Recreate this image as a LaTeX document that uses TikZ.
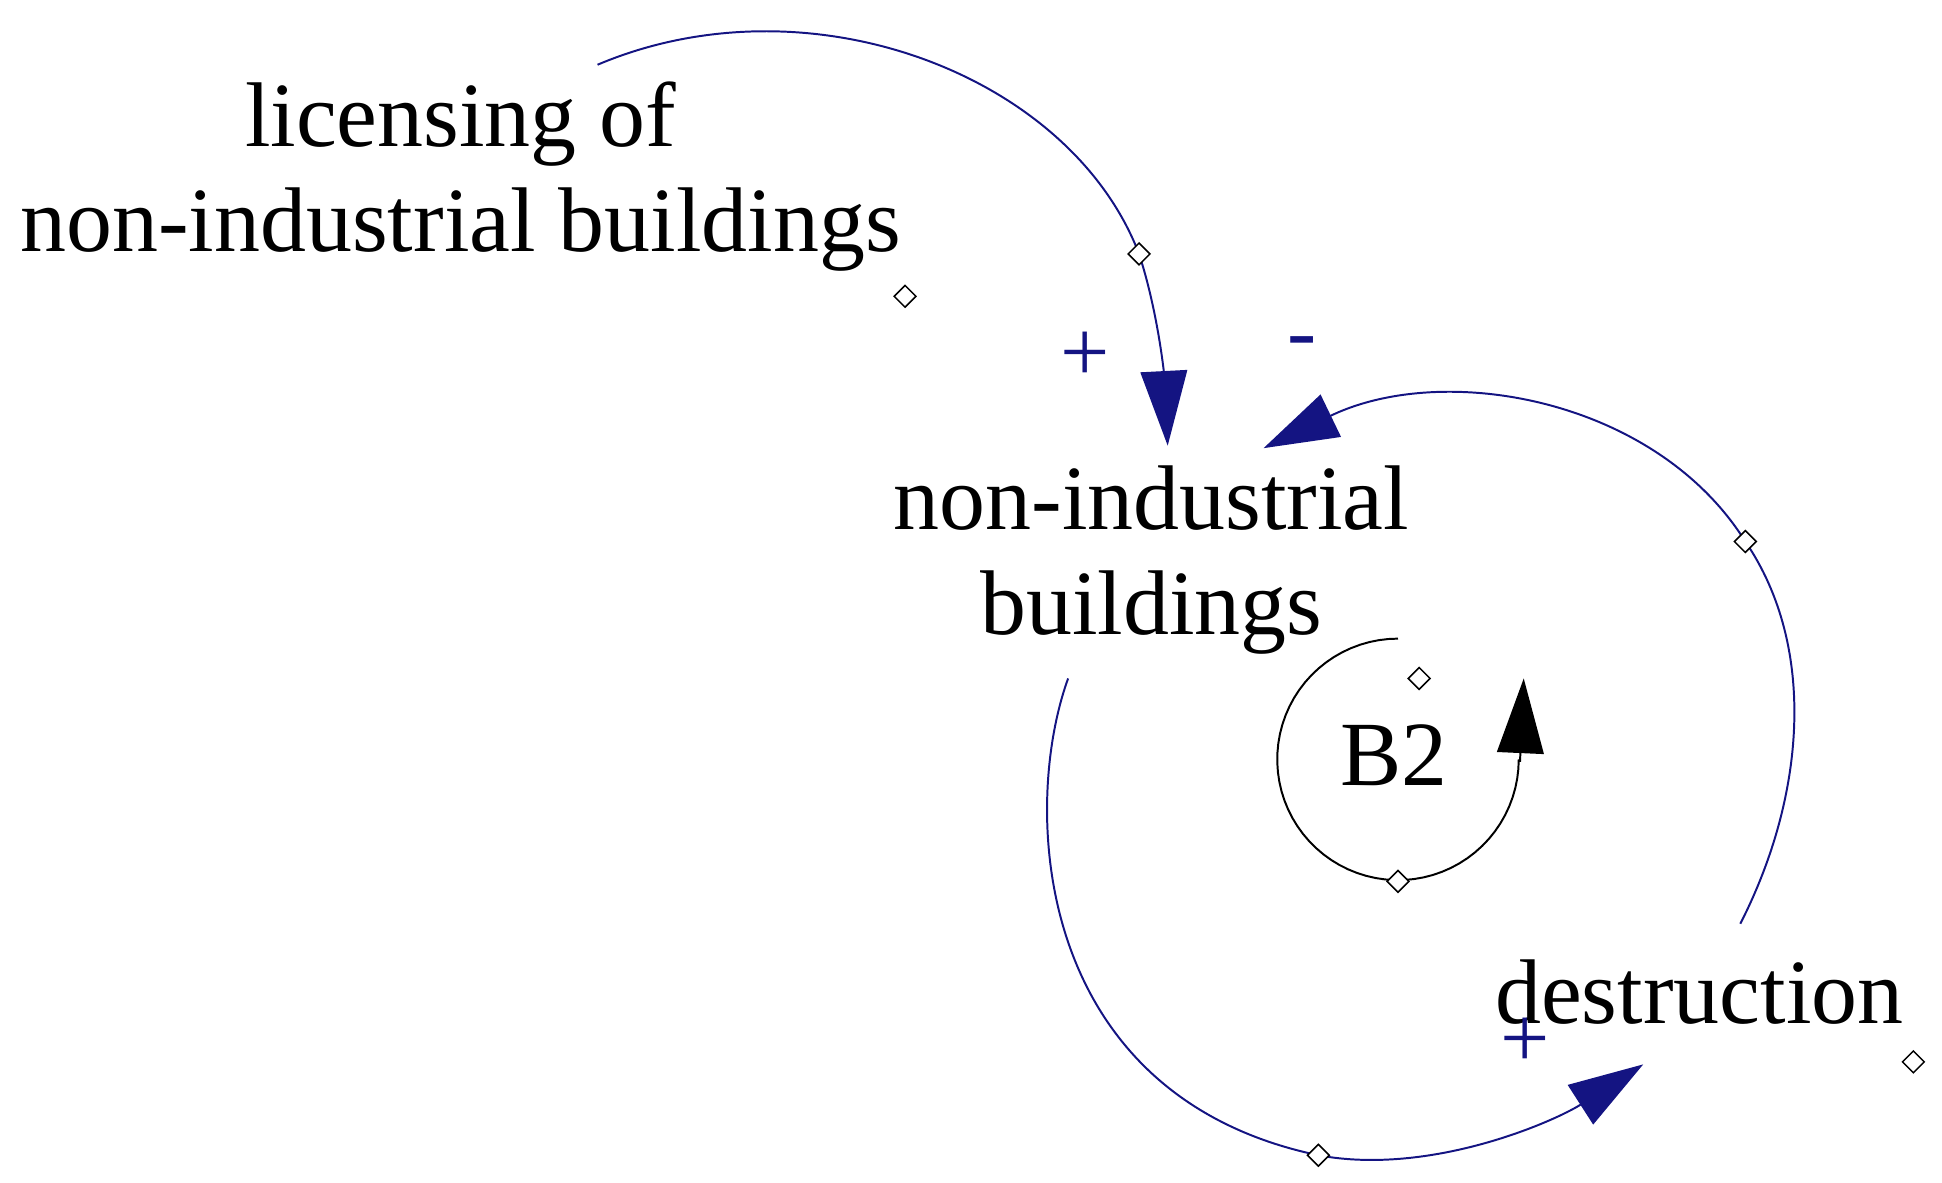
\documentclass[tikz,border=0pt]{standalone}
\usepackage{fontspec}
\setmainfont{Liberation Serif}
\usetikzlibrary{arrows.meta,shapes.geometric}
\begin{document}
\begin{tikzpicture}[x=0.02cm,y=-0.02cm,
  lbl/.style={font=\fontsize{42}{48}\selectfont,align=center,inner sep=0pt},
  sgn/.style={font=\fontsize{40}{40}\selectfont,text=navy,inner sep=0pt},
  hnd/.style={diamond,draw,fill=white,minimum size=0.36cm,inner sep=0pt,line width=0.7pt},
  lnk/.style={draw=navy,line width=0.9pt,-{Triangle[length=1.2cm,width=0.75cm]}}]
\definecolor{navy}{RGB}{20,20,130}
\useasboundingbox (0,0) rectangle (1560,950);
\node[lbl] (lic) at (370,142) {licensing of\\non-industrial buildings};
\node[lbl] (nib) at (925,450) {non-industrial\\buildings};
\node[lbl] (des) at (1365,797) {destruction};
\node[lbl] (b2) at (1120,607) {B2};
\node[sgn] (p1) at (872,287) {+};
\node[sgn] (m1) at (1046,280) {-};
\node[sgn] (p2) at (1225,838) {+};
\draw[lnk] (480,52) .. controls (650,-20) and (860,60) .. (915,204) .. controls (930,250) and (935,300) .. (938,358);
\draw[lnk] (1398,742) .. controls (1450,640) and (1460,520) .. (1402,435) .. controls (1330,320) and (1160,290) .. (1015,360);
\draw[lnk] (858,545) .. controls (820,650) and (830,880) .. (1059,928) .. controls (1150,945) and (1250,900) .. (1320,855);
\draw[black,line width=0.9pt] plot[domain=90:360,samples=60] ({1123+97*cos(\x)},{610-97*sin(\x)});
\coordinate (ab) at (1221,612);
\coordinate (at) at (1224,545);
\draw[black,line width=0.9pt,-{Triangle[length=1.2cm,width=0.75cm]}] (ab) -- (at);
\node[hnd] (h1) at (727,238) {};
\node[hnd] (h2) at (915,204) {};
\node[hnd] (h3) at (1140,545) {};
\node[hnd] (h4) at (1123,708) {};
\node[hnd] (h5) at (1402,435) {};
\node[hnd] (h6) at (1059,928) {};
\node[hnd] (h7) at (1537,853) {};
\end{tikzpicture}
\end{document}
